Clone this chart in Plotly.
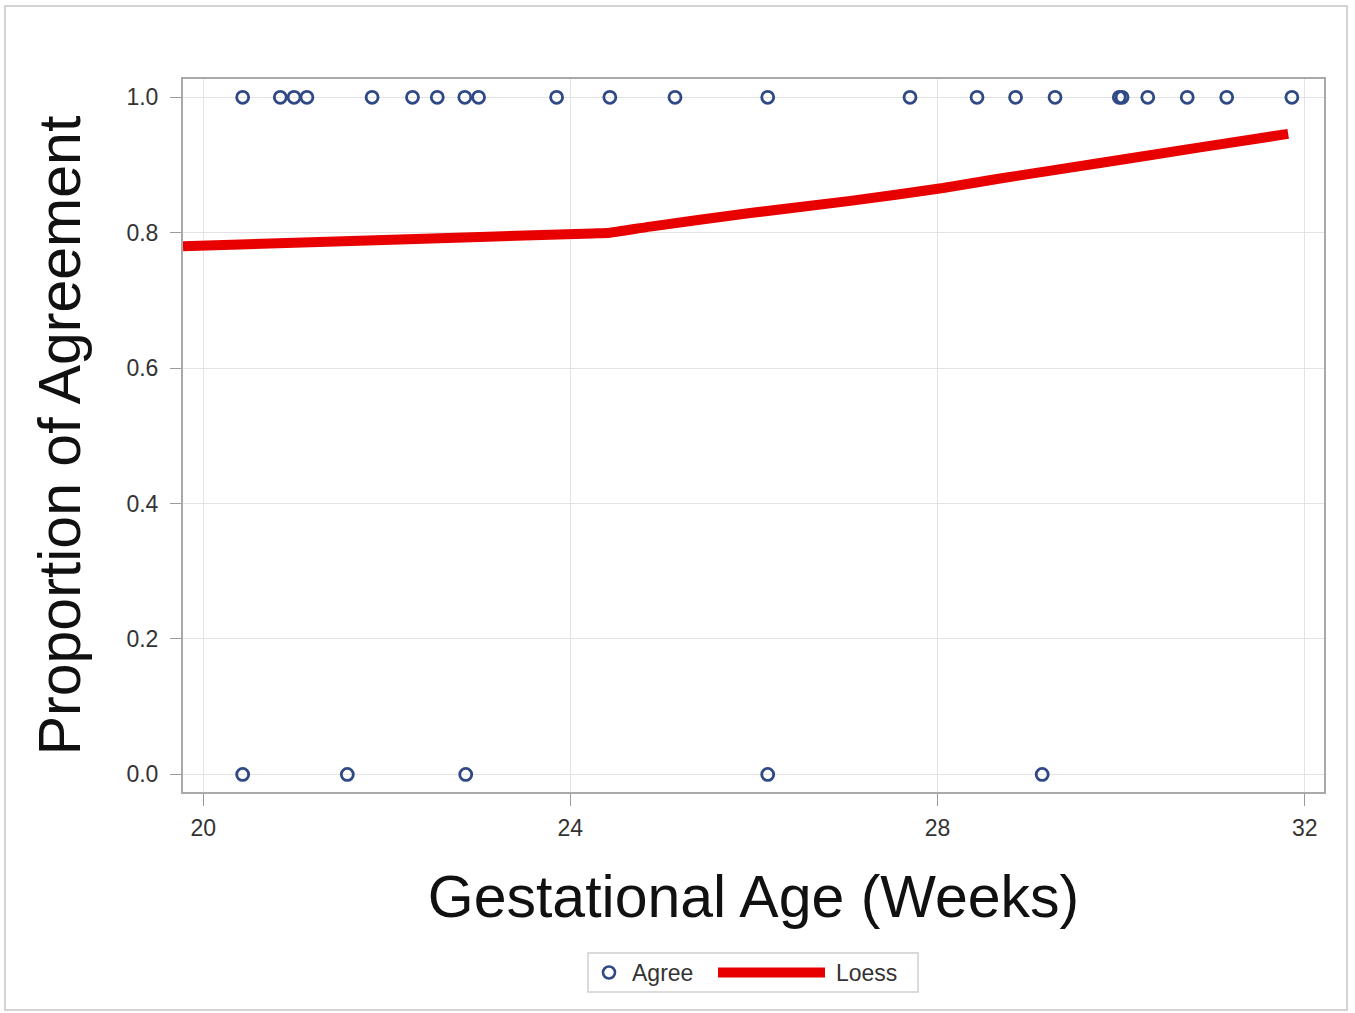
import plotly.graph_objects as go

# ---- data ----
agree_x = [20.43, 20.84, 20.99, 21.13, 21.84, 22.28, 22.55, 22.85, 23.00, 23.85,
           24.43, 25.14, 26.15, 27.70, 28.43, 28.85, 29.28, 29.98, 30.01, 30.29,
           30.72, 31.15, 31.86,
           20.43, 21.57, 22.86, 26.15, 29.14]
agree_y = [1.0] * 23 + [0.0] * 5

loess_x = [19.78, 21.88, 24.24, 24.43, 24.87, 25.96, 27.05, 28.06, 28.68, 29.77, 30.86, 31.82]
loess_y = [0.780, 0.789, 0.799, 0.800, 0.809, 0.829, 0.847, 0.866, 0.880, 0.903, 0.926, 0.946]

x_ticks = [20, 24, 28, 32]
y_ticks = [0.0, 0.2, 0.4, 0.6, 0.8, 1.0]
y_tick_text = ["0.0", "0.2", "0.4", "0.6", "0.8", "1.0"]

MARKER_COLOR = "#2f4886"
LINE_COLOR = "#e80000"
FONT = "Liberation Sans, Arial, sans-serif"

FW, FH = 1355, 1013

fig = go.Figure()
fig.add_trace(go.Scatter(x=loess_x, y=loess_y, mode="lines", name="Loess",
                         line=dict(color=LINE_COLOR, width=10, shape="spline", smoothing=0.6),
                         showlegend=False, cliponaxis=True))
fig.add_trace(go.Scatter(x=agree_x, y=agree_y, mode="markers", name="Agree",
                         marker=dict(symbol="circle-open", size=12,
                                     color=MARKER_COLOR, line=dict(width=2.8)),
                         showlegend=False, cliponaxis=False))

# plot area in screen px: x 183..1324, y 79..792
L, R, T, B = 183, 1324, 79, 792
W, H = R - L, B - T
def px(xp):
    return (xp - L) / W
def py(yp):
    return (B - yp) / H

shapes = [
    # outer page border
    dict(type="rect", xref="paper", yref="paper", x0=px(5), x1=px(1347), y0=py(1010), y1=py(6),
         line=dict(color="#d4d4d4", width=2), layer="below"),
    # legend box
    dict(type="rect", xref="paper", yref="paper", x0=px(588), x1=px(918), y0=py(992), y1=py(953),
         line=dict(color="#cfcfcf", width=1.5), fillcolor="white"),
    # legend loess line
    dict(type="line", xref="paper", yref="paper", x0=px(718), x1=px(825), y0=py(972.5), y1=py(972.5),
         line=dict(color=LINE_COLOR, width=10)),
    # legend marker
    dict(type="circle", xref="paper", yref="paper", x0=px(603), x1=px(615), y0=py(978.5), y1=py(966.5),
         line=dict(color=MARKER_COLOR, width=2.6)),
]

annotations = [
    dict(text="Agree", xref="paper", yref="paper", x=px(630), y=py(973), xanchor="left", yanchor="middle",
         showarrow=False, font=dict(family=FONT, size=23, color="#333333")),
    dict(text="Loess", xref="paper", yref="paper", x=px(834), y=py(973), xanchor="left", yanchor="middle",
         showarrow=False, font=dict(family=FONT, size=23, color="#333333")),
]

fig.update_layout(
    width=FW, height=FH,
    margin=dict(l=L, r=FW - R, t=T, b=FH - B, pad=0),
    paper_bgcolor="white", plot_bgcolor="white",
    font=dict(family=FONT, color="#333333"),
    shapes=shapes, annotations=annotations,
    showlegend=False,
)
fig.update_xaxes(
    range=[19.78, 32.21], tickvals=x_ticks, ticktext=[str(v) for v in x_ticks],
    showgrid=True, gridcolor="#e3e3e3", gridwidth=1, zeroline=False,
    showline=True, mirror=True, linecolor="#a9a9a9", linewidth=2,
    ticks="outside", ticklen=12, tickcolor="#9a9a9a", tickwidth=1,
    ticklabelstandoff=2,
    tickfont=dict(family=FONT, size=23, color="#333333"),
    title=dict(text="Gestational Age (Weeks)", font=dict(family=FONT, size=59, color="#111111"), standoff=36),
)
fig.update_yaxes(
    range=[-0.026, 1.027], tickvals=y_ticks, ticktext=y_tick_text,
    showgrid=True, gridcolor="#e3e3e3", gridwidth=1, zeroline=False,
    showline=True, mirror=True, linecolor="#a9a9a9", linewidth=2,
    ticks="outside", ticklen=11, tickcolor="#9a9a9a", tickwidth=1,
    ticklabelstandoff=7,
    tickfont=dict(family=FONT, size=23, color="#333333"),
    title=dict(text="Proportion of Agreement", font=dict(family=FONT, size=59, color="#111111"), standoff=27),
)

fig.write_html("out.html", config={"displayModeBar": False},
               post_script="document.body.style.margin='0';document.body.style.overflow='hidden';")
